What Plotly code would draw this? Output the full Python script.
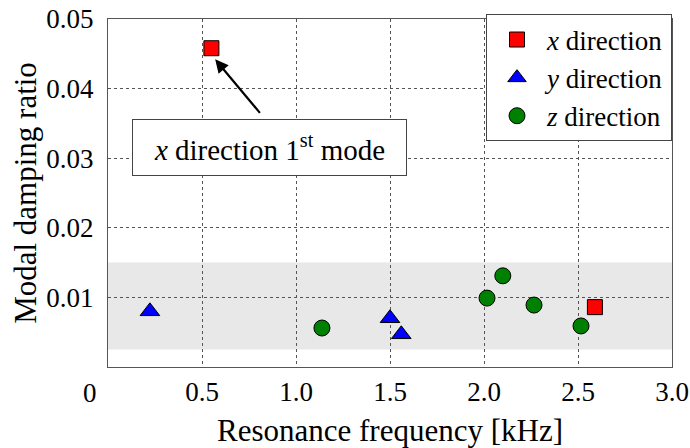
import plotly.graph_objects as go

x_dir_freq = [0.55, 2.59]
x_dir_damp = [0.0458, 0.0086]
y_dir_freq = [0.223, 1.50, 1.56]
y_dir_damp = [0.0080, 0.0070, 0.0047]
z_dir_freq = [1.138, 2.016, 2.10, 2.266, 2.516]
z_dir_damp = [0.0056, 0.0099, 0.0131, 0.0089, 0.0059]

x_ticks = [0, 0.5, 1.0, 1.5, 2.0, 2.5, 3.0]
x_tick_labels = ["", "0.5", "1.0", "1.5", "2.0", "2.5", "3.0"]
y_ticks = [0.01, 0.02, 0.03, 0.04, 0.05]
y_tick_labels = ["0.01", "0.02", "0.03", "0.04", "0.05"]
origin_label = "0"
band = [0.0025, 0.015]

FONT = "Liberation Serif"

fig = go.Figure()
fig.add_trace(go.Scatter(x=x_dir_freq, y=x_dir_damp, mode="markers", name="<i>x</i> direction",
                         marker=dict(symbol="square", size=15, color="#ff0000", line=dict(color="black", width=1))))
fig.add_trace(go.Scatter(x=y_dir_freq, y=y_dir_damp, mode="markers", name="<i>y</i> direction",
                         marker=dict(symbol="triangle-up", size=17, color="#0000ff", line=dict(color="black", width=1))))
fig.add_trace(go.Scatter(x=z_dir_freq, y=z_dir_damp, mode="markers", name="<i>z</i> direction",
                         marker=dict(symbol="circle", size=16, color="#008000", line=dict(color="black", width=1))))

fig.add_shape(type="rect", xref="x", yref="y", x0=0, x1=3.0, y0=band[0], y1=band[1],
              fillcolor="#e8e8e8", line=dict(width=0), layer="below")

fig.add_annotation(x=0.57, y=0.0442, xref="x", yref="y", text="", showarrow=True,
                   ax=46, ay=55, arrowhead=2, arrowsize=1.2, arrowwidth=2.2, arrowcolor="black")
fig.add_annotation(x=0.128, y=0.0316, xref="x", yref="y", xanchor="left", yanchor="middle",
                   text="<i>x</i> direction 1<sup>st</sup> mode", showarrow=False,
                   font=dict(family=FONT, size=29, color="black"), width=253, height=35,
                   bgcolor="white", bordercolor="#444", borderwidth=1, borderpad=10)
fig.add_annotation(x=(90 - 108) / 564, y=-(393 - 367) / 348, xref="paper", yref="paper",
                   xanchor="center", yanchor="middle", text=origin_label, showarrow=False,
                   font=dict(family=FONT, size=27, color="black"))

fig.update_layout(
    width=690, height=448,
    margin=dict(l=108, r=18, t=19, b=81, autoexpand=False),
    plot_bgcolor="white", paper_bgcolor="white",
    font=dict(family=FONT, size=27, color="black"),
    showlegend=True,
    legend=dict(x=1, y=1.013, xanchor="right", yanchor="top", bgcolor="white",
                bordercolor="#444", borderwidth=1, font=dict(family=FONT, size=27),
                tracegroupgap=0, itemwidth=50),
    xaxis=dict(range=[0, 3.0], tickvals=x_ticks, ticktext=x_tick_labels,
               showgrid=True, gridcolor="#555", griddash="dot", gridwidth=1,
               showline=True, linecolor="#555", mirror=True, ticks="", zeroline=False,
               automargin=False,
               title=dict(text="Resonance frequency [kHz]", font=dict(size=31), standoff=12),
               ticklabelstandoff=1),
    yaxis=dict(range=[0, 0.05], tickvals=y_ticks, ticktext=y_tick_labels,
               showgrid=True, gridcolor="#555", griddash="dot", gridwidth=1,
               showline=True, linecolor="#555", mirror=True, ticks="", zeroline=False,
               automargin=False,
               title=dict(text="Modal damping ratio", font=dict(size=31), standoff=0),
               ticklabelstandoff=8),
)

fig.write_html("out.html")
